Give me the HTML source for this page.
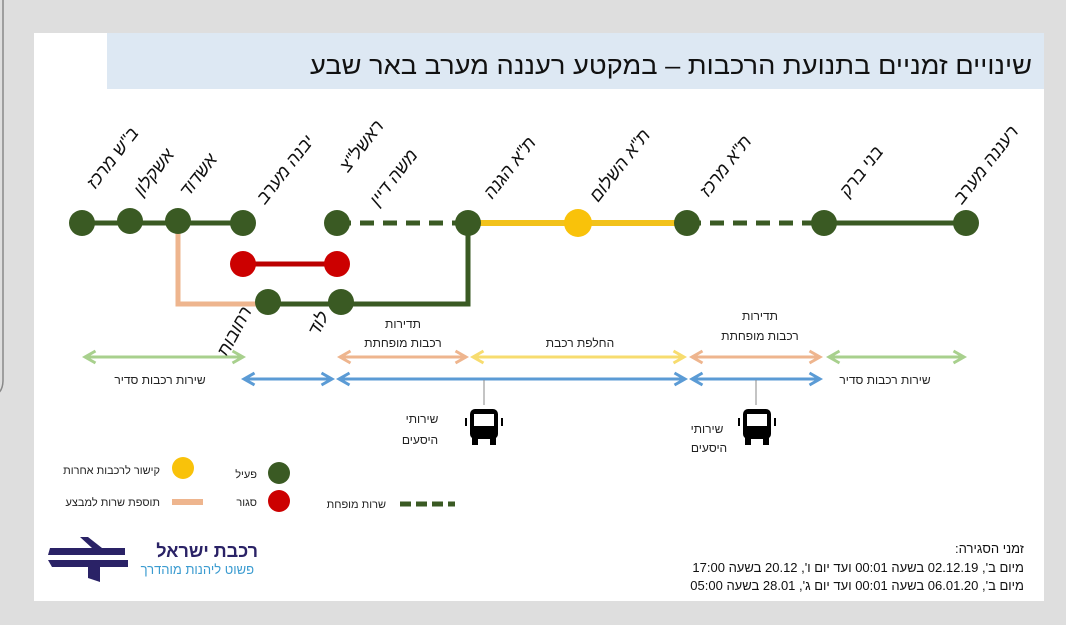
<!DOCTYPE html>
<html><head><meta charset="utf-8"><style>
body{margin:0;width:1066px;height:625px;background:#dedede;overflow:hidden;font-family:"Liberation Sans",sans-serif}
.t{position:absolute;direction:rtl;text-align:right;font-size:13px;color:#111;line-height:18.5px;right:42px;top:540px}
</style></head><body>
<svg width="1066" height="625" xmlns="http://www.w3.org/2000/svg" font-family="Liberation Sans, sans-serif" style="position:absolute;left:0;top:0">
<defs>
<marker id="a" viewBox="0 0 10 10" refX="8" refY="5" markerWidth="5" markerHeight="5" orient="auto-start-reverse"><path d="M1 1 L8 5 L1 9" fill="none" stroke="context-stroke" stroke-width="2"/></marker>
</defs>
<path d="M3 0 V380 Q3 392 -5 395" stroke="#888" fill="none" stroke-width="1.5"/>
<rect x="34" y="33" width="1010" height="568" fill="#fff"/>
<rect x="107" y="33" width="937" height="56" fill="#dde8f3"/>
<text x="1032" y="74" text-anchor="end" font-size="25" fill="#111" textLength="722" lengthAdjust="spacingAndGlyphs">שינויים זמניים בתנועת הרכבות – במקטע רעננה מערב באר שבע</text>
<g stroke-width="5">
<path d="M82 223 H243" stroke="#3a5a23"/>
<path d="M337 223 H468" stroke="#3a5a23" stroke-dasharray="14 9"/>
<path d="M468 223 H687" stroke="#f2c21b" stroke-width="6"/>
<path d="M687 223 H824" stroke="#3a5a23" stroke-dasharray="14 9"/>
<path d="M824 223 H966" stroke="#3a5a23"/>
<path d="M178 223 V304 H268" stroke="#eeb58e" fill="none"/>
<path d="M268 304 H468 V223" stroke="#3a5a23" fill="none"/>
<path d="M243 264 H337" stroke="#b00" />
</g>
<g fill="#3a5a23">
<circle cx="82" cy="223" r="13"/><circle cx="130" cy="221" r="13"/><circle cx="178" cy="221" r="13"/><circle cx="243" cy="223" r="13"/><circle cx="337" cy="223" r="13"/><circle cx="468" cy="223" r="13"/><circle cx="687" cy="223" r="13"/><circle cx="824" cy="223" r="13"/><circle cx="966" cy="223" r="13"/>
<circle cx="268" cy="302" r="13"/><circle cx="341" cy="302" r="13"/>
</g>
<circle cx="578" cy="223" r="14" fill="#f9c20a"/>
<circle cx="243" cy="264" r="13" fill="#c00"/><circle cx="337" cy="264" r="13" fill="#c00"/>
<g font-size="18" font-style="italic" fill="#111">
<text transform="translate(95,190) rotate(-52)">ב"ש מרכז</text>
<text transform="translate(142,197) rotate(-52)">אשקלון</text>
<text transform="translate(188,198) rotate(-52)">אשדוד</text>
<text transform="translate(265,205) rotate(-52)">יבנה מערב</text>
<text transform="translate(348,173) rotate(-52)">ראשל"צ</text>
<text transform="translate(378,207) rotate(-52)">משה דיין</text>
<text transform="translate(492,200) rotate(-52)">ת"א הגנה</text>
<text transform="translate(598,203) rotate(-52)">ת"א השלום</text>
<text transform="translate(708,198) rotate(-52)">ת"א מרכז</text>
<text transform="translate(848,198) rotate(-52)">בני ברק</text>
<text transform="translate(962,205) rotate(-52)">רעננה מערב</text>
<text transform="translate(227,358) rotate(-62)">רחובות</text>
<text transform="translate(318,337) rotate(-62)">לוד</text>
</g>
<g stroke-width="3" fill="none">
<path d="M85 357 H243" stroke="#a8d08d" marker-start="url(#a)" marker-end="url(#a)"/>
<path d="M340 357 H466" stroke="#eeb58e" marker-start="url(#a)" marker-end="url(#a)"/>
<path d="M473 357 H684" stroke="#f7dc6f" marker-start="url(#a)" marker-end="url(#a)"/>
<path d="M692 357 H820" stroke="#eeb58e" marker-start="url(#a)" marker-end="url(#a)"/>
<path d="M829 357 H964" stroke="#a8d08d" marker-start="url(#a)" marker-end="url(#a)"/>
<path d="M244 379 H332" stroke="#5b9bd5" marker-start="url(#a)" marker-end="url(#a)"/>
<path d="M339 379 H685" stroke="#5b9bd5" marker-start="url(#a)" marker-end="url(#a)"/>
<path d="M692 379 H820" stroke="#5b9bd5" marker-start="url(#a)" marker-end="url(#a)"/>
</g>
<path d="M484 380 V405 M756 380 V405" stroke="#888" stroke-width="1"/>
<g font-size="12" fill="#222" text-anchor="middle">
<text x="403" y="328">תדירות</text><text x="403" y="347">רכבות מופחתת</text>
<text x="580" y="347">החלפת רכבת</text>
<text x="760" y="320">תדירות</text><text x="760" y="340">רכבות מופחתת</text>
<text x="160" y="384">שירות רכבות סדיר</text>
<text x="885" y="384">שירות רכבות סדיר</text>
<text x="422" y="423">שירותי</text><text x="420" y="444">היסעים</text>
<text x="707" y="433">שירותי</text><text x="709" y="452">היסעים</text>
</g>
<g fill="#000">
<rect x="470" y="409" width="28" height="30" rx="5"/><rect x="474" y="414" width="20" height="12" fill="#fff"/><rect x="472" y="437" width="6" height="8"/><rect x="490" y="437" width="6" height="8"/><rect x="465" y="418" width="2" height="8"/><rect x="501" y="418" width="2" height="8"/>
<rect x="743" y="409" width="28" height="30" rx="5"/><rect x="747" y="414" width="20" height="12" fill="#fff"/><rect x="745" y="437" width="6" height="8"/><rect x="763" y="437" width="6" height="8"/><rect x="738" y="418" width="2" height="8"/><rect x="774" y="418" width="2" height="8"/>
</g>
<circle cx="183" cy="468" r="11" fill="#f9c20a"/>
<circle cx="279" cy="473" r="11" fill="#3a5a23"/>
<circle cx="279" cy="501" r="11" fill="#c00"/>
<rect x="172" y="499" width="31" height="6" fill="#eeb58e"/>
<path d="M400 504 H455" stroke="#3a5a23" stroke-width="5" stroke-dasharray="11 5"/>
<g font-size="11" fill="#222" text-anchor="end">
<text x="160" y="474">קישור לרכבות אחרות</text>
<text x="257" y="478">פעיל</text>
<text x="160" y="506">תוספת שרות למבצע</text>
<text x="257" y="506">סגור</text>
<text x="386" y="508">שרות מופחת</text>
</g>
<g fill="#2a2266">
<path d="M80 537 L88 537 L102 548 L125 548 L125 555 L48 555 L50 548 L92 548 Z"/>
<path d="M48 560 L128 560 L128 567 L100 567 L100 582 L88 578 L88 567 L52 567 Z"/>
</g>
<text x="258" y="557" font-size="18" font-weight="bold" fill="#2a2266" text-anchor="end">רכבת ישראל</text>
<text x="254" y="574" font-size="13" fill="#3a9bd0" text-anchor="end">פשוט ליהנות מוהדרך</text>
</svg>
<div class="t">זמני הסגירה:<br>מיום ב', 02.12.19 בשעה 00:01 ועד יום ו', 20.12 בשעה 17:00<br>מיום ב', 06.01.20 בשעה 00:01 ועד יום ג', 28.01 בשעה 05:00</div>
</body></html>
